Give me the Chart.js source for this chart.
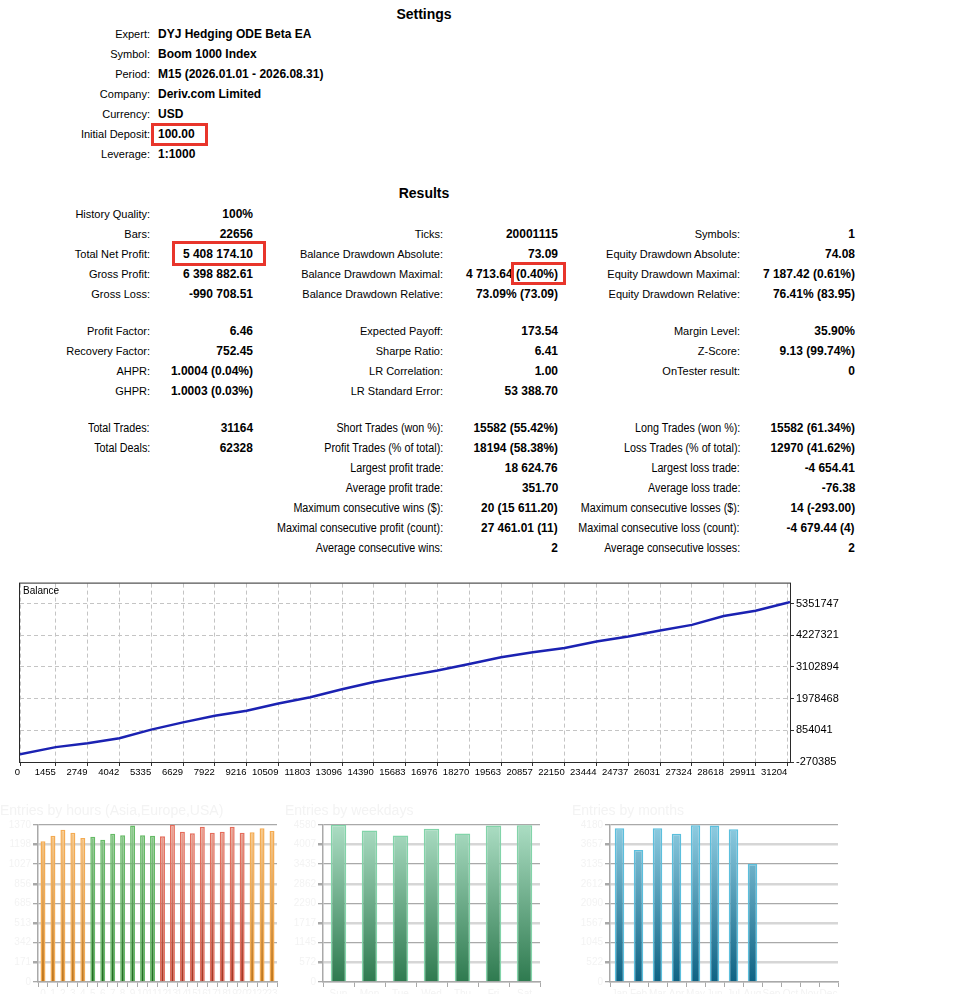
<!DOCTYPE html>
<html>
<head>
<meta charset="utf-8">
<script src="https://cdn.jsdelivr.net/npm/chart.js@4.4.1/dist/chart.umd.min.js"></script>
<style>
html, body { margin: 0; padding: 0; background: #fff; overflow: hidden; }
#page { position: relative; width: 961px; height: 994px; overflow: hidden; font-family: "Liberation Sans", Arial, sans-serif; color: #000; }
.t { position: absolute; white-space: nowrap; line-height: 16px; font-size: 11px; }
.b { font-weight: bold; font-size: 12px; }
.h { font-weight: bold; font-size: 14px; }
.nl { font-size: 12.5px; transform: scaleX(0.86); transform-origin: right center; }
.nv { font-size: 12.5px; font-weight: bold; transform: scaleX(0.95); transform-origin: right center; }
.red { position: absolute; border: 3px solid #e8352b; box-sizing: border-box; }
canvas { position: absolute; }
</style>
</head>
<body>
<div id="page">
  <div id="txt"></div>
  <canvas id="balanceChart" width="860" height="210" style="left:0;top:575px"></canvas>
  <canvas id="hoursChart" width="280" height="194" style="left:0;top:800px"></canvas>
  <canvas id="weekdaysChart" width="258" height="194" style="left:285px;top:800px"></canvas>
  <canvas id="monthsChart" width="270" height="194" style="left:572px;top:800px"></canvas>
  <div class="red" style="left:151px;top:123px;width:57px;height:23px"></div>
  <div class="red" style="left:172px;top:241px;width:94px;height:25px"></div>
  <div class="red" style="left:511px;top:262px;width:55px;height:23px"></div>
</div>
<script>
// balance curve at each grid line
var balanceTrades = [0, 1455, 2749, 4042, 5335, 6629, 7922, 9216, 10509, 11803, 13096, 14390, 15683,
    16976, 18270, 19563, 20857, 22150, 23444, 24737, 26031, 27324, 28618, 29911, 31204, 31313];
var balanceValues = [100, 257000, 397000, 573000, 879000, 1135000, 1371000, 1546000, 1803000, 2028000,
    2309000, 2565000, 2776000, 2976000, 3208000, 3444000, 3619000, 3771000, 4006000, 4182000,
    4392000, 4593000, 4909000, 5095000, 5376000, 5408274];
var balanceXTicks = [0, 1455, 2749, 4042, 5335, 6629, 7922, 9216, 10509, 11803, 13096, 14390, 15683,
    16976, 18270, 19563, 20857, 22150, 23444, 24737, 26031, 27324, 28618, 29911, 31204];
var balanceYTicks = [-270385, 854041, 1978468, 3102894, 4227321, 5351747];

// entries
var hourLabels = ['0','1','2','3','4','5','6','7','8','9','10','11','12','13','14','15','16','17','18','19','20','21','22','23'];
var hourZones = ['asia','asia','asia','asia','asia','europe','europe','europe','europe','europe','europe','europe',
    'usa','usa','usa','usa','usa','usa','usa','usa','usa','asia','asia','asia'];
var hourEntries = [1227, 1274, 1326, 1300, 1256, 1265, 1239, 1291, 1279, 1364, 1279, 1274,
    1271, 1370, 1309, 1297, 1352, 1300, 1309, 1352, 1300, 1306, 1341, 1317];
var hourMax = 1370;

var weekdayLabels = ['Sun', 'Mon', 'Tue', 'Wed', 'Thu', 'Fri', 'Sat'];
var weekdayEntries = [4580, 4414, 4268, 4463, 4326, 4560, 4570];
var weekdayMax = 4580;

var monthLabels = ['Jan', 'Feb', 'Mar', 'Apr', 'May', 'Jun', 'Jul', 'Aug', 'Sep', 'Oct', 'Nov', 'Dec'];
var monthEntries = [4091, 3512, 4091, 3939, 4171, 4162, 4064, 3137, null, null, null, null];
var monthMax = 4180;

var FONT = '"Liberation Sans", Arial, sans-serif';
var FAINT = '#f3f3f3';

// ---------- report text ----------
var box = document.getElementById('txt');
function put(text, x, y, align, cls) {
    var d = document.createElement('div');
    d.className = 't ' + (cls || '');
    d.textContent = text;
    d.style.top = (y - 8) + 'px';
    if (align === 'r') d.style.right = (961 - x) + 'px';
    else if (align === 'c') { d.style.left = (x - 200) + 'px'; d.style.width = '400px'; d.style.textAlign = 'center'; }
    else d.style.left = x + 'px';
    box.appendChild(d);
}

var settingsRows = [
    ['Expert:', 'DYJ Hedging ODE Beta EA'],
    ['Symbol:', 'Boom 1000 Index'],
    ['Period:', 'M15 (2026.01.01 - 2026.08.31)'],
    ['Company:', 'Deriv.com Limited'],
    ['Currency:', 'USD'],
    ['Initial Deposit:', '100.00'],
    ['Leverage:', '1:1000']
];
var resultRows = [
    [214, 'History Quality:', '100%'],
    [234, 'Bars:', '22656', 'Ticks:', '20001115', 'Symbols:', '1'],
    [254, 'Total Net Profit:', '5 408 174.10', 'Balance Drawdown Absolute:', '73.09', 'Equity Drawdown Absolute:', '74.08'],
    [274, 'Gross Profit:', '6 398 882.61', 'Balance Drawdown Maximal:', '4 713.64 (0.40%)', 'Equity Drawdown Maximal:', '7 187.42 (0.61%)'],
    [294, 'Gross Loss:', '-990 708.51', 'Balance Drawdown Relative:', '73.09% (73.09)', 'Equity Drawdown Relative:', '76.41% (83.95)'],
    [331, 'Profit Factor:', '6.46', 'Expected Payoff:', '173.54', 'Margin Level:', '35.90%'],
    [351, 'Recovery Factor:', '752.45', 'Sharpe Ratio:', '6.41', 'Z-Score:', '9.13 (99.74%)'],
    [371, 'AHPR:', '1.0004 (0.04%)', 'LR Correlation:', '1.00', 'OnTester result:', '0'],
    [391, 'GHPR:', '1.0003 (0.03%)', 'LR Standard Error:', '53 388.70']
];
var tradeRows = [
    [428, 'Total Trades:', '31164', 'Short Trades (won %):', '15582 (55.42%)', 'Long Trades (won %):', '15582 (61.34%)'],
    [448, 'Total Deals:', '62328', 'Profit Trades (% of total):', '18194 (58.38%)', 'Loss Trades (% of total):', '12970 (41.62%)'],
    [468, '', '', 'Largest profit trade:', '18 624.76', 'Largest loss trade:', '-4 654.41'],
    [488, '', '', 'Average profit trade:', '351.70', 'Average loss trade:', '-76.38'],
    [508, '', '', 'Maximum consecutive wins ($):', '20 (15 611.20)', 'Maximum consecutive losses ($):', '14 (-293.00)'],
    [528, '', '', 'Maximal consecutive profit (count):', '27 461.01 (11)', 'Maximal consecutive loss (count):', '-4 679.44 (4)'],
    [548, '', '', 'Average consecutive wins:', '2', 'Average consecutive losses:', '2']
];
var cols = [[150, 253], [443, 558], [740, 855]];

put('Settings', 424, 14, 'c', 'h');
settingsRows.forEach(function (r, i) {
    put(r[0], 150, 34 + i * 20, 'r');
    put(r[1], 158, 34 + i * 20, 'l', 'b');
});
put('Results', 424, 193, 'c', 'h');
resultRows.forEach(function (r) {
    for (var c = 0; c < 3; c++) {
        if (!r[1 + c * 2]) continue;
        put(r[1 + c * 2], cols[c][0], r[0], 'r');
        put(r[2 + c * 2], cols[c][1], r[0], 'r', 'b');
    }
});
tradeRows.forEach(function (r) {
    for (var c = 0; c < 3; c++) {
        if (!r[1 + c * 2]) continue;
        put(r[1 + c * 2], cols[c][0], r[0], 'r', 'nl');
        put(r[2 + c * 2], cols[c][1], r[0], 'r', 'nv');
    }
});

// ---------- balance graph ----------
var framePlugin = {
    id: 'frame',
    afterDraw: function (chart) {
        var a = chart.chartArea, c = chart.ctx;
        c.save();
        c.strokeStyle = '#2a2a2a';
        c.lineWidth = 1;
        c.strokeRect(a.left - 0.5, a.top - 0.5, a.right - a.left + 1, a.bottom - a.top + 1);
        c.fillStyle = '#000';
        c.font = '10px ' + FONT;
        c.textBaseline = 'top';
        c.fillText('Balance', a.left + 3, a.top + 3);
        c.restore();
    }
};

new Chart(document.getElementById('balanceChart'), {
    type: 'line',
    data: {
        datasets: [{
            label: 'Balance',
            data: balanceTrades.map(function (t, i) { return { x: t, y: balanceValues[i] }; }),
            borderColor: '#1b22b2',
            borderWidth: 2.5,
            pointRadius: 0,
            tension: 0,
            fill: false
        }]
    },
    options: {
        responsive: false,
        animation: false,
        layout: { padding: { left: 20, top: 8.5, right: 0, bottom: 0 } },
        plugins: { legend: { display: false }, tooltip: { enabled: false } },
        scales: {
            x: {
                type: 'linear',
                min: 0,
                max: 31313,
                afterBuildTicks: function (s) { s.ticks = balanceXTicks.map(function (v) { return { value: v }; }); },
                afterFit: function (s) { s.height = 23; },
                grid: { color: '#c4c4c4', lineWidth: 1, tickColor: '#333', tickLength: 4, tickBorderDash: [] },
                border: { display: false, dash: [4, 3] },
                ticks: { align: 'end', autoSkip: false, maxRotation: 0, padding: 1, color: '#000', font: { family: FONT, size: 9.5 },
                    callback: function (v) { return String(v); } }
            },
            y: {
                position: 'right',
                min: -270385,
                max: 6058000,
                afterBuildTicks: function (s) { s.ticks = balanceYTicks.map(function (v) { return { value: v }; }); },
                afterFit: function (s) { s.width = 70; },
                grid: { color: '#c4c4c4', lineWidth: 1, tickColor: '#333', tickLength: 4, tickBorderDash: [] },
                border: { display: false, dash: [4, 3] },
                ticks: { padding: 2, color: '#000', font: { family: FONT, size: 11 }, callback: function (v) { return String(v); } }
            }
        }
    },
    plugins: [framePlugin]
});

// ---------- entries bar charts ----------
var palette = {
    asia:   { top: '#f9ca8c', bottom: '#bf761c', border: '#f4ab52' },
    europe: { top: '#91cc91', bottom: '#1b6b1b', border: '#66bb66' },
    usa:    { top: '#eba596', bottom: '#a7321f', border: '#e46c5b' },
    week:   { top: '#abddc3', bottom: '#2e7a4f', border: '#82d4a9' },
    month:  { top: '#8ecce1', bottom: '#0e6283', border: '#5bbfdd' }
};

function entriesChart(id, title, labels, values, max, zones) {
    new Chart(document.getElementById(id), {
        type: 'bar',
        data: {
            labels: labels,
            datasets: [{
                data: values,
                backgroundColor: function (ctx) {
                    var a = ctx.chart.chartArea;
                    if (!a) return null;
                    var p = palette[zones[ctx.dataIndex]];
                    var g = ctx.chart.ctx.createLinearGradient(0, a.top, 0, a.bottom);
                    g.addColorStop(0, p.top);
                    g.addColorStop(1, p.bottom);
                    return g;
                },
                borderColor: function (ctx) { return palette[zones[ctx.dataIndex]].border; },
                borderWidth: 1.5,
                categoryPercentage: 1,
                barPercentage: 0.5
            }]
        },
        options: {
            responsive: false,
            animation: false,
            layout: { padding: { right: id === 'monthsChart' ? 4 : 3 } },
            plugins: {
                legend: { display: false },
                tooltip: { enabled: false },
                title: { display: true, text: title, align: 'start', color: FAINT, font: { family: FONT, size: 14, weight: 'normal' }, padding: { top: 3, bottom: 5 } }
            },
            scales: {
                x: {
                    grid: { drawOnChartArea: false, color: '#a9a9a9', tickLength: 5, offset: true },
                    border: { color: '#a9a9a9', width: 1.5 },
                    ticks: { color: FAINT, autoSkip: false, maxRotation: 0, padding: 1, font: { family: FONT, size: 10 } },
                    afterFit: function (s) { s.height = 12; }
                },
                y: {
                    min: 0,
                    max: max,
                    afterBuildTicks: function (s) {
                        var t = [];
                        for (var i = 0; i <= 8; i++) t.push({ value: max * i / 8 });
                        s.ticks = t;
                    },
                    afterFit: function (s) { s.width = 38; },
                    grid: {
                        color: function (c) { return c.index % 2 ? '#d6d6d6' : '#a9a9a9'; },
                        lineWidth: function (c) { return c.index % 2 ? 2.5 : 1.3; },
                        tickColor: '#a9a9a9',
                        tickLength: 5
                    },
                    border: { color: '#a9a9a9', width: 1.5 },
                    ticks: { color: FAINT, padding: 2, font: { family: FONT, size: 10 }, callback: function (v) { return Math.floor(v); } }
                }
            }
        }
    });
}

entriesChart('hoursChart', 'Entries by hours (Asia,Europe,USA)', hourLabels, hourEntries, hourMax, hourZones);
entriesChart('weekdaysChart', 'Entries by weekdays', weekdayLabels, weekdayEntries, weekdayMax, weekdayLabels.map(function () { return 'week'; }));
entriesChart('monthsChart', 'Entries by months', monthLabels, monthEntries, monthMax, monthLabels.map(function () { return 'month'; }));
</script>
</body>
</html>
